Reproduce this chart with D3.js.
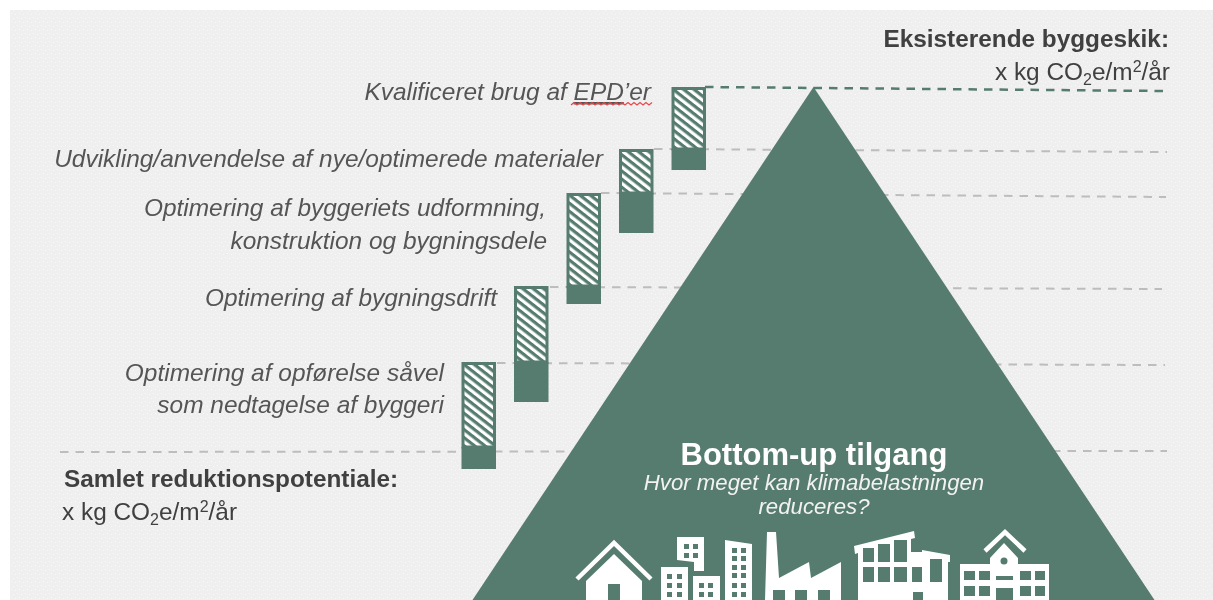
<!DOCTYPE html>
<meta charset="utf-8">
<style>
html, body { margin: 0; padding: 0; background: #fff; overflow: hidden; }
svg { display: block; filter: blur(0.45px); }
text { font-family: "Liberation Sans", Arial, sans-serif; }
.label { font-size: 24.45px; font-style: italic; fill: #555; text-anchor: end; }
.head { font-size: 24.35px; font-weight: bold; fill: #404040; }
.unit { font-size: 24.4px; fill: #404040; }
</style>
<body>
<script src="https://d3js.org/d3.v7.min.js"></script>
<script>
// steps of the staircase, top one first
var steps = ["EPD", "materialer", "udformning", "drift", "opfoerelse"];

// reduction, counted down from the baseline at the apex
var stepTop = [0, 62, 106, 199, 275];
var stepSplit = [62, 106, 199, 275, 360];
var stepBottom = [83, 146, 217, 315, 382];

// guide lines run very slightly out of level in the original
var guideFrom = [0, 62, 106, 200, 276, 365];
var guideTo = [4, 65, 110, 202, 278, 364];

var width = 1213, height = 600;
var green = "#567b6f";

// set the ranges
var y = d3.scaleLinear().domain([0, 513]).range([87, 600]);
var x = d3.scaleBand().domain(steps).range([706, 461.5]).paddingInner(0.343).paddingOuter(0);
var pyramid = d3.scaleLinear().domain([0, 513]).range([0, 341]);
var apexX = 813.5;

var svg = d3.select("body").append("svg")
    .attr("width", width)
    .attr("height", height);

var defs = svg.append("defs");

// speckled slide background
var speck = defs.append("pattern")
    .attr("id", "speck")
    .attr("patternUnits", "userSpaceOnUse")
    .attr("width", 8).attr("height", 8);
speck.append("rect").attr("width", 8).attr("height", 8).attr("fill", "#efefef");
[[1, 1], [5, 2], [3, 5], [7, 6]].forEach(function(d) {
  speck.append("rect").attr("x", d[0]).attr("y", d[1])
      .attr("width", 1).attr("height", 1).attr("fill", "#f9f9f9");
});

// diagonal stripes of the upper part of each bar
var hatch = defs.append("pattern")
    .attr("id", "hatch")
    .attr("patternUnits", "userSpaceOnUse")
    .attr("width", 6.4).attr("height", 6.4)
    .attr("patternTransform", "rotate(38)");
hatch.append("rect").attr("width", 6.4).attr("height", 6.4).attr("fill", "#fff");
hatch.append("rect").attr("width", 6.4).attr("height", 3.2).attr("fill", green);

svg.append("rect")
    .attr("x", 10).attr("y", 10)
    .attr("width", width - 10).attr("height", height - 10)
    .attr("fill", "url(#speck)");

// guide lines
var guideLeft = [705, 654, 601, 550, 497, 60];
var guideRight = [1163, 1167, 1166, 1162, 1165, 1167];

svg.selectAll(".guide")
    .data(guideFrom)
  .enter().append("line")
    .attr("class", "guide")
    .attr("x1", function(d, i) { return guideLeft[i]; })
    .attr("x2", function(d, i) { return guideRight[i]; })
    .attr("y1", function(d) { return y(d); })
    .attr("y2", function(d, i) { return y(guideTo[i]); })
    .attr("stroke", function(d, i) { return i == 0 ? green : "#bdbdbd"; })
    .attr("stroke-width", function(d, i) { return i == 0 ? 2.5 : 2; })
    .attr("stroke-dasharray", "8.5 7");

// the pyramid
svg.append("path")
    .attr("fill", green)
    .attr("d", d3.line()([
      [apexX, y(0)],
      [apexX + pyramid(513), y(513)],
      [apexX - pyramid(513), y(513)]
    ]) + "Z");

// bars
var bars = svg.selectAll(".step")
    .data(steps)
  .enter().append("g")
    .attr("class", "step");

bars.append("rect")
    .attr("x", function(d) { return x(d) + 1.5; })
    .attr("y", function(d, i) { return y(stepTop[i]) + 1.5; })
    .attr("width", x.bandwidth() - 3)
    .attr("height", function(d, i) { return y(stepSplit[i]) - y(stepTop[i]) - 1.5; })
    .attr("fill", "url(#hatch)")
    .attr("stroke", green)
    .attr("stroke-width", 3);

bars.append("rect")
    .attr("x", function(d) { return x(d); })
    .attr("y", function(d, i) { return y(stepSplit[i]); })
    .attr("width", x.bandwidth())
    .attr("height", function(d, i) { return y(stepBottom[i]) - y(stepSplit[i]); })
    .attr("fill", green);

// labels
function label(txt, px, py) {
  return svg.append("text").attr("class", "label").attr("x", px).attr("y", py).text(txt);
}
var epd = svg.append("text").attr("class", "label").attr("x", 651).attr("y", 100);
epd.append("tspan").text("Kvalificeret brug af ");
epd.append("tspan").style("text-decoration", "underline").text("EPD");
epd.append("tspan").text("’er");
label("Udvikling/anvendelse af nye/optimerede materialer", 603, 167);
label("Optimering af byggeriets udformning,", 546, 216);
label("konstruktion og bygningsdele", 547, 249);
label("Optimering af bygningsdrift", 497, 306);
label("Optimering af opførelse såvel", 444, 381);
label("som nedtagelse af byggeri", 444, 413);

// spell check squiggle under EPD'er
var squiggle = d3.range(0, 28).map(function(i) { return [571 + i * 3, i % 2 ? 102.5 : 105]; });
svg.append("path")
    .attr("d", d3.line()(squiggle))
    .attr("fill", "none")
    .attr("stroke", "#e8474a")
    .attr("stroke-width", 1.2);

function unit(px, py, anchor) {
  var t = svg.append("text").attr("class", "unit")
      .attr("x", px).attr("y", py).attr("text-anchor", anchor);
  t.append("tspan").text("x kg CO");
  t.append("tspan").attr("dy", 5).style("font-size", "16px").text("2");
  t.append("tspan").attr("dy", -5).text("e/m");
  t.append("tspan").attr("dy", -8).style("font-size", "16px").text("2");
  t.append("tspan").attr("dy", 8).text("/år");
}

svg.append("text").attr("class", "head").attr("x", 1169).attr("y", 47)
    .attr("text-anchor", "end").text("Eksisterende byggeskik:");
unit(1170, 80, "end");
svg.append("text").attr("class", "head").attr("x", 64).attr("y", 487)
    .text("Samlet reduktionspotentiale:");
unit(62, 520, "start");

// text inside the pyramid
svg.append("text").attr("x", 814).attr("y", 465)
    .attr("text-anchor", "middle").attr("fill", "#fff")
    .style("font-size", "31px").style("font-weight", "bold")
    .text("Bottom-up tilgang");
svg.append("text").attr("x", 814).attr("y", 490)
    .attr("text-anchor", "middle").attr("fill", "#f2f2f2")
    .style("font-size", "22.2px").style("font-style", "italic")
    .text("Hvor meget kan klimabelastningen");
svg.append("text").attr("x", 814).attr("y", 514)
    .attr("text-anchor", "middle").attr("fill", "#f2f2f2")
    .style("font-size", "22.2px").style("font-style", "italic")
    .text("reduceres?");

// building icons along the bottom, white shapes then green cut-outs
var iconWhite = [
  [[586,581],[614,554],[642,581],[642,600],[586,600]],
  [[677,537],[704,537],[704,571],[694,571],[694,562],[677,560]],
  [[661,567],[688,567],[688,600],[661,600]],
  [[693,576],[720,576],[720,600],[693,600]],
  [[725,540],[752,544],[752,600],[725,600]],
  [[765,600],[767,532],[776,532],[779,578],[809,562],[811,578],[841,562],[841,600]],
  [[854,546],[914,531],[915,538],[911,539],[911,552],[922,552],[922,550],[950,555],[950,562],[948,562],[948,600],[858,600],[858,553],[855,554]],
  [[990,564],[990,558],[1004,543],[1018,558],[1018,564],[1049,564],[1049,600],[960,600],[960,564]]
];
var iconGreen = [
  [608,584,12,16],
  [684,544,5,5],[693,544,5,5],[684,553,5,5],[693,553,5,5],
  [667,574,5,5],[677,574,5,5],[667,583,5,5],[677,583,5,5],[667,592,5,5],[677,592,5,5],
  [699,583,5,5],[708,583,5,5],[699,592,5,5],[708,592,5,5],
  [732,548,5,5],[741,548,5,5],[732,556,5,5],[741,556,5,5],[732,565,5,5],[741,565,5,5],
  [732,573,5,5],[741,573,5,5],[732,583,5,5],[741,583,5,5],[732,592,5,5],[741,592,5,5],
  [773,590,12,10],[795,590,12,10],[818,590,12,10],
  [863,548,11,14],[878,544,12,18],[894,540,13,22],
  [863,567,11,15],[878,567,12,15],[894,567,13,15],[912,567,10,15],[930,559,12,23],[913,592,10,8],
  [964,571,11,9],[979,571,11,9],[1020,571,11,9],[1035,571,10,9],
  [964,586,11,10],[979,586,11,10],[1020,586,11,10],[1035,586,10,10],
  [996,576,17,4],[996,588,17,12]
];
var iconRoofs = [
  [[577,579],[614,543],[651,579]],
  [[985,551],[1005,532],[1025,551]]
];

svg.selectAll(".wall").data(iconWhite).enter().append("path")
    .attr("class", "wall")
    .attr("fill", "#fff")
    .attr("d", function(d) { return d3.line()(d) + "Z"; });
svg.selectAll(".window").data(iconGreen).enter().append("rect")
    .attr("class", "window")
    .attr("fill", green)
    .attr("x", function(d) { return d[0]; })
    .attr("y", function(d) { return d[1]; })
    .attr("width", function(d) { return d[2]; })
    .attr("height", function(d) { return d[3]; });
svg.selectAll(".roof").data(iconRoofs).enter().append("path")
    .attr("class", "roof")
    .attr("fill", "none")
    .attr("stroke", "#fff")
    .attr("stroke-width", 4.5)
    .attr("d", d3.line());
svg.append("circle").attr("cx", 1004).attr("cy", 561).attr("r", 3.5).attr("fill", green);
</script>
</body>
